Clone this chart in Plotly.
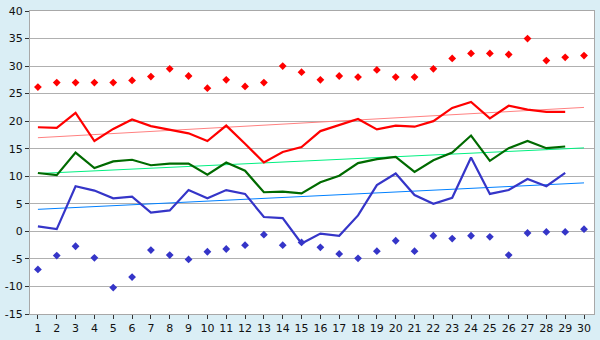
import plotly.graph_objects as go

days = list(range(1, 31))
abs_max = [26.2, 27.0, 27.0, 27.0, 27.0, 27.4, 28.1, 29.5, 28.2, 26.0,
           27.5, 26.3, 27.0, 30.0, 28.9, 27.5, 28.2, 28.0, 29.3, 28.0,
           28.0, 29.5, 31.4, 32.3, 32.3, 32.1, 35.0, 31.0, 31.6, 31.9]
avg_max = [18.9, 18.8, 21.5, 16.4, 18.6, 20.3, 19.1, 18.4, 17.8, 16.4,
           19.2, 15.9, 12.5, 14.4, 15.3, 18.2, 19.3, 20.4, 18.5, 19.2,
           19.0, 20.0, 22.4, 23.5, 20.5, 22.8, 22.1, 21.7, 21.7]
avg_mean = [10.6, 10.2, 14.3, 11.5, 12.7, 13.0, 12.0, 12.3, 12.3, 10.3,
            12.5, 11.0, 7.1, 7.2, 6.9, 8.9, 10.1, 12.4, 13.1, 13.5,
            10.8, 12.9, 14.3, 17.4, 12.8, 15.1, 16.4, 15.1, 15.4]
avg_min = [0.9, 0.4, 8.2, 7.4, 6.0, 6.3, 3.4, 3.8, 7.5, 6.0,
           7.5, 6.8, 2.6, 2.4, -2.2, -0.4, -0.8, 2.9, 8.4, 10.5,
           6.6, 5.0, 6.1, 13.4, 6.8, 7.5, 9.5, 8.2, 10.6]
abs_min = [-6.9, -4.4, -2.7, -4.8, -10.2, -8.3, -3.4, -4.3, -5.1, -3.7,
           -3.2, -2.5, -0.6, -2.5, -2.0, -2.9, -4.1, -4.9, -3.6, -1.7,
           -3.6, -0.8, -1.3, -0.8, -1.0, -4.3, -0.3, -0.1, -0.1, 0.4]
trend_x = [1, 30]
trend_max = [17.0, 22.5]
trend_mean = [10.5, 15.15]
trend_min = [4.0, 8.8]
y_ticks = [-15, -10, -5, 0, 5, 10, 15, 20, 25, 30, 35, 40]
y_labels = ["-15", "-10", "-5", "0", "5", "10", "15", "20", "25", "30", "35", "40"]

RED = "#ff0000"
GREEN = "#006a00"
BLUE = "#3535c8"

fig = go.Figure()
fig.add_trace(go.Scatter(x=trend_x, y=trend_max, mode="lines",
                         line=dict(color="#ff8080", width=1)))
fig.add_trace(go.Scatter(x=trend_x, y=trend_mean, mode="lines",
                         line=dict(color="#00f080", width=1)))
fig.add_trace(go.Scatter(x=trend_x, y=trend_min, mode="lines",
                         line=dict(color="#0080ff", width=1)))
fig.add_trace(go.Scatter(x=days[:len(avg_max)], y=avg_max, mode="lines",
                         line=dict(color=RED, width=2.2)))
fig.add_trace(go.Scatter(x=days[:len(avg_mean)], y=avg_mean, mode="lines",
                         line=dict(color=GREEN, width=2.2)))
fig.add_trace(go.Scatter(x=days[:len(avg_min)], y=avg_min, mode="lines",
                         line=dict(color=BLUE, width=2.2)))
fig.add_trace(go.Scatter(x=days, y=abs_max, mode="markers",
                         marker=dict(symbol="diamond", size=6, color=RED)))
fig.add_trace(go.Scatter(x=days, y=abs_min, mode="markers",
                         marker=dict(symbol="diamond", size=6, color=BLUE)))

fig.update_layout(
    width=600, height=340,
    margin=dict(l=27, r=5, t=5, b=20),
    paper_bgcolor="#daeef5",
    plot_bgcolor="#ffffff",
    showlegend=False,
    font=dict(family="DejaVu Sans", size=11, color="#111111"),
)
fig.update_xaxes(
    range=[0.58, 30.53], tickmode="array", tickvals=days,
    ticktext=[str(d) for d in days],
    showgrid=False, zeroline=False,
    showline=True, linecolor="#a8a8a8", linewidth=1, mirror=True,
    ticks="outside", ticklen=4, tickcolor="#333333",
    ticklabeloverflow="allow",
)
fig.update_yaxes(
    range=[-15, 40], tickmode="array", tickvals=y_ticks, ticktext=y_labels,
    showgrid=True, gridcolor="#b0b0b0", gridwidth=1, zeroline=False,
    showline=True, linecolor="#a8a8a8", linewidth=1, mirror=True,
    ticks="outside", ticklen=4, tickcolor="#333333",
    ticklabeloverflow="allow",
)

fig.write_html("out.html")
